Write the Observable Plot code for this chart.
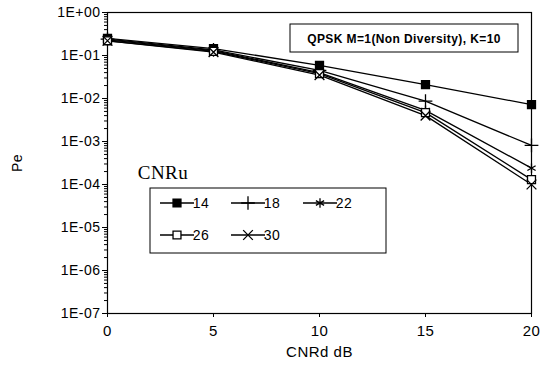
<!DOCTYPE html>
<html><head><meta charset="utf-8">
<script src="https://cdn.jsdelivr.net/npm/d3@7"></script>
<script src="https://cdn.jsdelivr.net/npm/@observablehq/plot@0.6"></script>
<style>body{margin:0;background:#fff}</style>
</head><body><div id="chart"></div>
<script>
const cnrd = [0, 5, 10, 15, 20];
const seriesNames = ["14", "18", "22", "26", "30"];
const pe14 = [0.25, 0.145, 0.059, 0.021, 0.0072];
const pe18 = [0.24, 0.135, 0.045, 0.0087, 0.00081];
const pe22 = [0.23, 0.13, 0.040, 0.0053, 0.00024];
const pe26 = [0.22, 0.125, 0.038, 0.0047, 0.00013];
const pe30 = [0.22, 0.12, 0.035, 0.0040, 0.0001];
const yTicks = [1, 1e-1, 1e-2, 1e-3, 1e-4, 1e-5, 1e-6, 1e-7];
const xTicks = [0, 5, 10, 15, 20];
const xLabel = "CNRd dB";
const yLabel = "Pe";
const titleText = "QPSK M=1(Non Diversity), K=10";
const legendTitle = "CNRu";

const values = [pe14, pe18, pe22, pe26, pe30];
const symbols = ["square", "plus", "asterisk", "square", "times"];
const fills = ["black", "none", "none", "white", "none"];
const rows = [];
seriesNames.forEach((s, i) => cnrd.forEach((x, j) => rows.push({s, x, y: values[i][j]})));
const minorTicks = [];
yTicks.slice(1).forEach(d => { for (let k = 2; k <= 9; k++) minorTicks.push(k * d); });
const fmt = d => { const e = Math.round(Math.log10(d)); return "1E" + (e >= 0 ? "+" : "-") + String(Math.abs(e)).padStart(2, "0"); };

const dotMarks = seriesNames.map((s, i) => Plot.dot(rows.filter(r => r.s === s), {
  x: "x", y: "y", symbol: () => symbols[i], r: 4.5, fill: fills[i], stroke: "black", strokeWidth: 1.3
}));

const chart = Plot.plot({
  width: 549, height: 365,
  marginLeft: 107, marginRight: 18, marginTop: 12, marginBottom: 52,
  style: {fontFamily: "'Liberation Sans', Arial, sans-serif", fontSize: "14px", background: "white", color: "black", letterSpacing: "0.5px"},
  x: {domain: [0, 20]},
  y: {type: "log", domain: [1e-7, 1]},
  symbol: {type: "identity"},
  marks: [
    Plot.frame({stroke: "black", strokeWidth: 1.2}),
    Plot.axisY({ticks: minorTicks, tickSize: 3, tickFormat: () => "", label: null}),
    Plot.axisY({ticks: yTicks, tickFormat: fmt, tickSize: 5, tickPadding: 2, label: yLabel, labelAnchor: "center", labelArrow: "none", labelOffset: 95, fontSize: 14}),
    Plot.axisX({ticks: xTicks, tickSize: 4, tickPadding: 8, label: xLabel, labelAnchor: "center", labelArrow: "none", labelOffset: 43, fontSize: 15}),
    Plot.line(rows, {x: "x", y: "y", z: "s", stroke: "black", strokeWidth: 1.3}),
    ...dotMarks
  ]
});
document.getElementById("chart").appendChild(chart);

// annotations: title box and legend
const svg = d3.select(chart);
const g = svg.append("g").attr("font-family", "'Liberation Sans', Arial, sans-serif");
g.append("rect").attr("x", 290).attr("y", 24).attr("width", 228).attr("height", 28)
  .attr("fill", "white").attr("stroke", "black").attr("stroke-width", 1);
g.append("text").attr("x", 404).attr("y", 42.5).attr("text-anchor", "middle")
  .attr("font-size", 12).attr("font-weight", "bold").attr("letter-spacing", "0.4px").text(titleText);

g.append("text").attr("x", 163).attr("y", 179).attr("font-family", "'Liberation Serif', serif")
  .attr("font-size", 19).text(legendTitle);
g.append("rect").attr("x", 150).attr("y", 188).attr("width", 236).attr("height", 65)
  .attr("fill", "white").attr("stroke", "black").attr("stroke-width", 1);
const legendPos = [[160, 203], [231, 203], [303, 203], [160, 235], [231, 235]];
const symMap = {square: d3.symbolSquare, plus: d3.symbolPlus, asterisk: d3.symbolAsterisk, times: d3.symbolTimes};
seriesNames.forEach((s, i) => {
  const [lx, ly] = legendPos[i];
  g.append("line").attr("x1", lx).attr("x2", lx + 34).attr("y1", ly).attr("y2", ly)
    .attr("stroke", "black").attr("stroke-width", 1.3);
  g.append("path").attr("transform", `translate(${lx + 17},${ly})`)
    .attr("d", d3.symbol(symMap[symbols[i]], Math.PI * 20)())
    .attr("fill", fills[i]).attr("stroke", "black").attr("stroke-width", 1.3);
  g.append("text").attr("x", lx + 41).attr("y", ly + 5).attr("font-size", 14).attr("letter-spacing", "0.5px").text(s);
});
</script>
</body></html>
